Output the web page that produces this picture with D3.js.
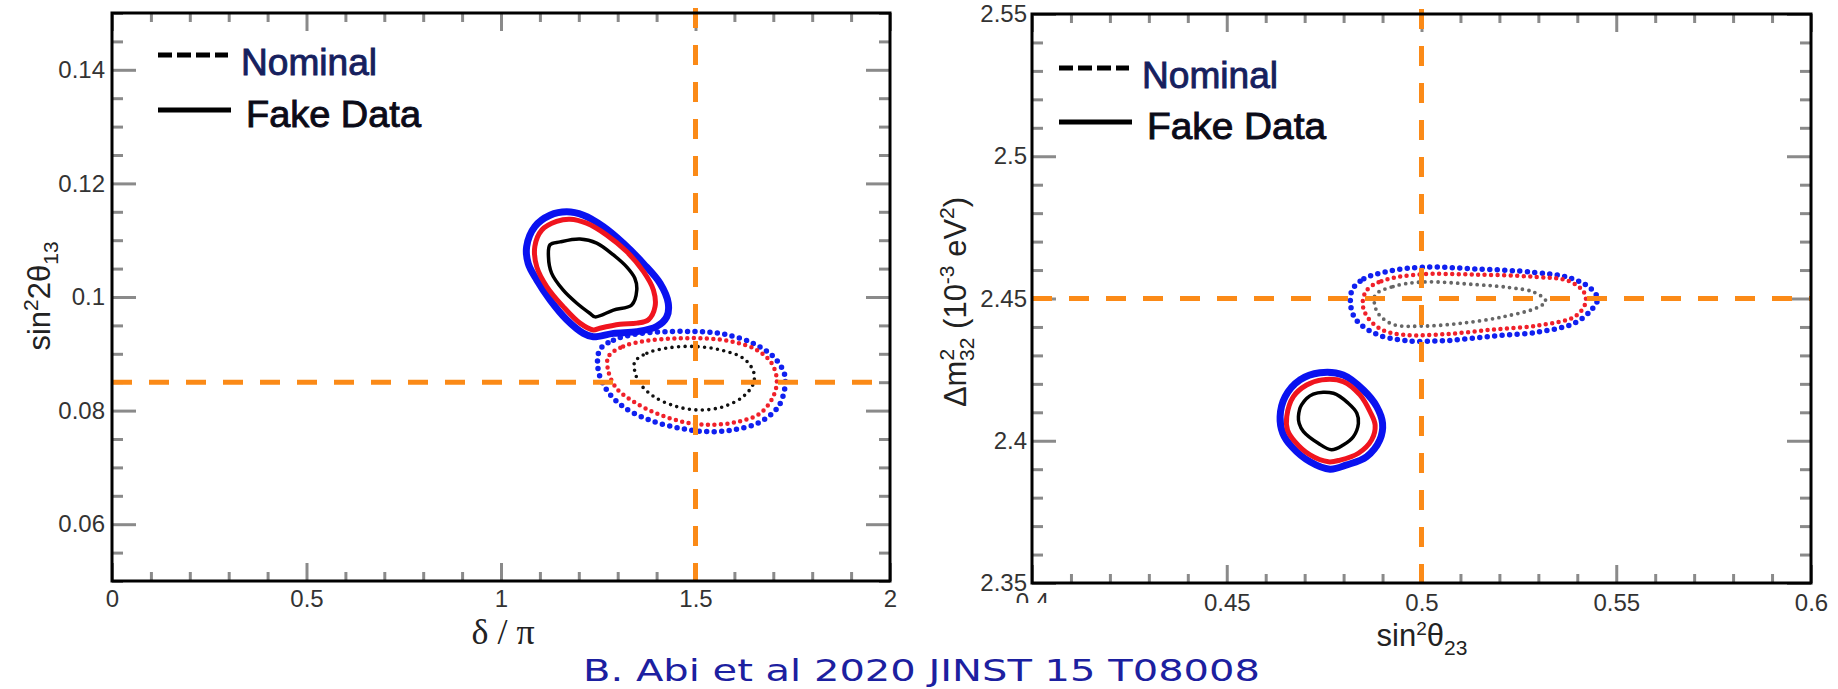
<!DOCTYPE html>
<html>
<head>
<meta charset="utf-8">
<script src="https://cdn.jsdelivr.net/npm/d3@7"></script>
<style>
  body { margin: 0; background: #fff; }
  text { font-family: "Liberation Sans", Arial, sans-serif; }
</style>
</head>
<body>
<div class="canva"></div>
<script>
// ---- left panel: delta/pi vs sin^2 2theta13 ----
const deltaTicks = [0, 0.5, 1, 1.5, 2];
const deltaLabels = ['0', '0.5', '1', '1.5', '2'];
const th13Ticks = [0.06, 0.08, 0.1, 0.12, 0.14];
const th13Labels = ['0.06', '0.08', '0.1', '0.12', '0.14'];
const leftTrue = [1.5, 0.085];

// fake data (solid)
const fakeBlueL = [[1.066,0.1089],[1.087,0.1124],[1.126,0.1144],[1.169,0.1150],[1.212,0.1144],[1.263,0.1124],[1.314,0.1095],[1.366,0.1059],[1.409,0.1024],[1.430,0.0989],[1.426,0.0965],[1.400,0.0948],[1.349,0.0939],[1.289,0.0936],[1.237,0.0930],[1.212,0.0936],[1.169,0.0960],[1.126,0.0995],[1.092,0.1030],[1.070,0.1059]];
const fakeRedL = [[1.087,0.1089],[1.105,0.1118],[1.143,0.1133],[1.177,0.1137],[1.220,0.1130],[1.272,0.1109],[1.323,0.1080],[1.366,0.1045],[1.392,0.1012],[1.396,0.0983],[1.379,0.0960],[1.349,0.0954],[1.306,0.0952],[1.254,0.0945],[1.237,0.0942],[1.203,0.0954],[1.160,0.0983],[1.118,0.1018],[1.092,0.1053]];
const fakeBlackL = [[1.126,0.1092],[1.152,0.1097],[1.203,0.1102],[1.246,0.1095],[1.289,0.1074],[1.323,0.1053],[1.344,0.1033],[1.349,0.1012],[1.336,0.0986],[1.289,0.0977],[1.242,0.0965],[1.229,0.0971],[1.195,0.0989],[1.160,0.1012],[1.130,0.1042],[1.122,0.1071]];
// nominal (dotted)
const nomBlueL = [[1.254,0.0907],[1.289,0.0924],[1.349,0.0935],[1.426,0.0939],[1.503,0.0939],[1.572,0.0935],[1.649,0.0918],[1.700,0.0895],[1.728,0.0866],[1.730,0.0842],[1.713,0.0807],[1.666,0.0780],[1.597,0.0766],[1.529,0.0763],[1.460,0.0769],[1.383,0.0783],[1.314,0.0807],[1.272,0.0836],[1.250,0.0871]];
const nomRedL = [[1.276,0.0895],[1.314,0.0913],[1.375,0.0923],[1.452,0.0927],[1.529,0.0927],[1.597,0.0921],[1.657,0.0907],[1.696,0.0883],[1.709,0.0854],[1.700,0.0825],[1.666,0.0795],[1.606,0.0780],[1.537,0.0775],[1.469,0.0780],[1.400,0.0795],[1.340,0.0816],[1.297,0.0839],[1.276,0.0869]];
const nomBlackL = [[1.344,0.0886],[1.375,0.0901],[1.426,0.0910],[1.494,0.0913],[1.563,0.0907],[1.623,0.0892],[1.649,0.0869],[1.649,0.0848],[1.623,0.0825],[1.572,0.0807],[1.512,0.0801],[1.452,0.0807],[1.392,0.0825],[1.357,0.0848],[1.344,0.0869]];

// ---- right panel: sin^2 theta23 vs dm2_32 ----
const th23Ticks = [0.4, 0.45, 0.5, 0.55, 0.6];
const th23Labels = ['0.4', '0.45', '0.5', '0.55', '0.6'];
const dmTicks = [2.35, 2.4, 2.45, 2.5, 2.55];
const dmLabels = ['2.35', '2.4', '2.45', '2.5', '2.55'];
const rightTrue = [0.5, 2.45];

const fakeBlueR = [[0.4637,2.4085],[0.4650,2.4155],[0.4688,2.4214],[0.4739,2.4239],[0.4799,2.4231],[0.4851,2.4178],[0.4885,2.4120],[0.4900,2.4061],[0.4893,2.4003],[0.4859,2.3944],[0.4808,2.3915],[0.4765,2.3900],[0.4714,2.3926],[0.4667,2.3979],[0.4644,2.4026]];
const fakeRedR = [[0.4654,2.4085],[0.4671,2.4155],[0.4705,2.4196],[0.4744,2.4214],[0.4799,2.4208],[0.4842,2.4161],[0.4868,2.4102],[0.4881,2.4055],[0.4872,2.4003],[0.4838,2.3956],[0.4791,2.3932],[0.4761,2.3926],[0.4714,2.3950],[0.4675,2.3997],[0.4656,2.4038]];
const fakeBlackR = [[0.4684,2.4085],[0.4692,2.4126],[0.4722,2.4164],[0.4774,2.4167],[0.4812,2.4132],[0.4834,2.4097],[0.4838,2.4061],[0.4825,2.4014],[0.4799,2.3985],[0.4769,2.3968],[0.4735,2.3991],[0.4697,2.4032],[0.4686,2.4061]];
const nomBlueR = [[0.4822,2.4530],[0.4852,2.4569],[0.4912,2.4595],[0.5003,2.4610],[0.5138,2.4604],[0.5289,2.4592],[0.5379,2.4573],[0.5432,2.4538],[0.5452,2.4499],[0.5436,2.4460],[0.5394,2.4414],[0.5304,2.4383],[0.5184,2.4368],[0.5063,2.4352],[0.4957,2.4352],[0.4882,2.4376],[0.4834,2.4422],[0.4819,2.4468]];
const nomRedR = [[0.4860,2.4530],[0.4897,2.4561],[0.4988,2.4584],[0.5138,2.4584],[0.5289,2.4576],[0.5379,2.4561],[0.5417,2.4522],[0.5421,2.4484],[0.5394,2.4437],[0.5304,2.4406],[0.5184,2.4391],[0.5063,2.4375],[0.4957,2.4372],[0.4897,2.4391],[0.4860,2.4437],[0.4849,2.4484]];
const nomBlackR = [[0.4882,2.4514],[0.4927,2.4542],[0.5003,2.4558],[0.5138,2.4549],[0.5229,2.4538],[0.5289,2.4522],[0.5319,2.4491],[0.5297,2.4468],[0.5214,2.4437],[0.5108,2.4414],[0.5003,2.4403],[0.4927,2.4409],[0.4890,2.4445],[0.4879,2.4484]];

const legendNames = ['Nominal', 'Fake Data'];
const citation = 'B. Abi et al 2020 JINST 15 T08008';

const orange = '#fb8a17';
const svg = d3.select('.canva').append('svg')
    .attr('width', 1838)
    .attr('height', 689);

function panel(o) {
  const x = d3.scaleLinear().domain(o.xDom).range([o.l, o.r]);
  const y = d3.scaleLinear().domain(o.yDom).range([o.b, o.t]);
  const g = svg.append('g');

  const xMinor = d3.range(o.xDom[0], o.xDom[1] + 1e-9, o.xStep).filter(v => !o.xTicks.some(t => Math.abs(t - v) < 1e-9));
  const yMinor = d3.range(o.yDom[0], o.yDom[1] + 1e-9, o.yStep).filter(v => !o.yTicks.some(t => Math.abs(t - v) < 1e-9));

  function ticks(axis, tr, vals, size, fmt) {
    const a = g.append('g').attr('transform', tr)
      .call(axis.tickValues(vals).tickSize(-size).tickPadding(8).tickFormat(fmt));
    a.select('.domain').remove();
    a.selectAll('line').attr('stroke', '#8a8a8a').attr('stroke-width', 3);
    a.selectAll('text').attr('fill', '#333').style('font-size', '24px')
      .style('font-family', '"Liberation Sans", Arial, sans-serif');
    return a;
  }
  const fmtX = (d, i) => o.xLabels[i];
  const fmtY = (d, i) => o.yLabels[i];
  // major and minor ticks on all four sides, pointing in
  const bx = ticks(d3.axisBottom(x), `translate(0,${o.b})`, o.xTicks, 18, fmtX);
  bx.selectAll('text').attr('y', o.xPad);
  ticks(d3.axisBottom(x), `translate(0,${o.b})`, xMinor, 9, '');
  ticks(d3.axisTop(x), `translate(0,${o.t})`, o.xTicks, 18, '');
  ticks(d3.axisTop(x), `translate(0,${o.t})`, xMinor, 9, '');
  const ly = ticks(d3.axisLeft(y), `translate(${o.l},0)`, o.yTicks, 24, fmtY);
  ly.selectAll('text').attr('x', -o.yPad);
  ticks(d3.axisLeft(y), `translate(${o.l},0)`, yMinor, 11, '');
  ticks(d3.axisRight(y), `translate(${o.r},0)`, o.yTicks, 24, '');
  ticks(d3.axisRight(y), `translate(${o.r},0)`, yMinor, 11, '');
  if (o.clipFirstX) {
    // the first label of this axis is half hidden in the original
    const id = 'clipx' + o.l;
    svg.append('clipPath').attr('id', id).append('rect')
      .attr('x', -30).attr('y', 9).attr('width', 60).attr('height', 11);
    bx.selectAll('.tick').filter((d, i) => i === 0).select('text')
      .attr('y', o.xPad - 1).attr('clip-path', `url(#${id})`);
  }

  // contours
  const line = d3.line().x(d => x(d[0])).y(d => y(d[1]))
    .curve(d3.curveCatmullRomClosed.alpha(0.5));
  const cg = g.append('g');
  o.nominal.forEach(c => {
    cg.append('path').attr('d', line(c.pts)).attr('fill', 'none')
      .attr('stroke', c.color).attr('stroke-width', c.w)
      .attr('stroke-linecap', 'round').attr('stroke-dasharray', `0 ${c.gap}`);
  });
  o.fake.forEach(c => {
    cg.append('path').attr('d', line(c.pts)).attr('fill', 'none')
      .attr('stroke', c.color).attr('stroke-width', c.w)
      .attr('stroke-linejoin', 'round');
  });

  // true-value lines
  g.append('line')
    .attr('x1', o.l).attr('x2', o.r)
    .attr('y1', y(o.truth[1])).attr('y2', y(o.truth[1]))
    .attr('stroke', orange).attr('stroke-width', 5).attr('stroke-dasharray', '20 17');
  g.append('line')
    .attr('x1', x(o.truth[0])).attr('x2', x(o.truth[0]))
    .attr('y1', o.t - 5).attr('y2', o.b)
    .attr('stroke', orange).attr('stroke-width', 5).attr('stroke-dasharray', '20 17');

  // frame
  g.append('rect').attr('x', o.l).attr('y', o.t)
    .attr('width', o.r - o.l).attr('height', o.b - o.t)
    .attr('fill', 'none').attr('stroke', '#000').attr('stroke-width', 3);

  // legend
  const lg = o.legend;
  g.append('line').attr('x1', lg.x).attr('x2', lg.x + 70).attr('y1', lg.y1).attr('y2', lg.y1)
    .attr('stroke', '#000').attr('stroke-width', 5).attr('stroke-dasharray', '14 5');
  g.append('line').attr('x1', lg.x).attr('x2', lg.x + 73).attr('y1', lg.y2).attr('y2', lg.y2)
    .attr('stroke', '#000').attr('stroke-width', 5);
  g.append('text').attr('x', lg.x + 83).attr('y', lg.y1 + 20).text(legendNames[0])
    .attr('fill', '#16205e').attr('stroke', '#16205e').attr('stroke-width', 0.9)
    .style('font-size', '37px')
    .attr('textLength', 136).attr('lengthAdjust', 'spacingAndGlyphs');
  g.append('text').attr('x', lg.x + 88).attr('y', lg.y2 + 17).text(legendNames[1])
    .attr('fill', '#0b0b18').attr('stroke', '#0b0b18').attr('stroke-width', 0.9)
    .style('font-size', '36px')
    .attr('textLength', lg.fw).attr('lengthAdjust', 'spacingAndGlyphs');
  return { x, y };
}

panel({
  xDom: [0, 2], yDom: [0.05, 0.15], l: 112, r: 890, t: 13, b: 581,
  xTicks: deltaTicks, xLabels: deltaLabels, xStep: 0.1, xPad: 9,
  yTicks: th13Ticks, yLabels: th13Labels, yStep: 0.005, yPad: 7,
  truth: leftTrue,
  fake: [
    { pts: fakeBlueL, color: '#0a12f0', w: 7 },
    { pts: fakeRedL, color: '#f0141e', w: 5 },
    { pts: fakeBlackL, color: '#000', w: 3.5 }
  ],
  nominal: [
    { pts: nomBlueL, color: '#1020f0', w: 5.5, gap: 7.5 },
    { pts: nomRedL, color: '#f0202a', w: 4.5, gap: 6.5 },
    { pts: nomBlackL, color: '#111', w: 3.6, gap: 6.5 }
  ],
  legend: { x: 158, y1: 55, y2: 110, fw: 175 }
});

panel({
  xDom: [0.4, 0.6], yDom: [2.35, 2.55], l: 1032, r: 1811, t: 14, b: 583,
  xTicks: th23Ticks, xLabels: th23Labels, xStep: 0.01, xPad: 11,
  yTicks: dmTicks, yLabels: dmLabels, yStep: 0.01, yPad: 5,
  truth: rightTrue, clipFirstX: true,
  fake: [
    { pts: fakeBlueR, color: '#0a12f0', w: 7 },
    { pts: fakeRedR, color: '#f0141e', w: 5 },
    { pts: fakeBlackR, color: '#000', w: 3.5 }
  ],
  nominal: [
    { pts: nomBlueR, color: '#1020f0', w: 5.5, gap: 7.5 },
    { pts: nomRedR, color: '#f0202a', w: 4.5, gap: 6.5 },
    { pts: nomBlackR, color: '#666', w: 3.8, gap: 6.5 }
  ],
  legend: { x: 1059, y1: 68, y2: 122, fw: 179 }
});

// axis titles
svg.append('text').attr('x', 503).attr('y', 644).attr('text-anchor', 'middle')
  .style('font-family', '"Liberation Serif", "Times New Roman", serif')
  .style('font-size', '36px').attr('fill', '#222').text('δ / π');

const t13 = svg.append('text').attr('transform', 'translate(50,296) rotate(-90)')
  .attr('text-anchor', 'middle').style('font-size', '31px').attr('fill', '#222');
t13.append('tspan').text('sin');
t13.append('tspan').attr('dy', -12).style('font-size', '21px').text('2');
t13.append('tspan').attr('dy', 12).text('2θ');
t13.append('tspan').attr('dy', 8).style('font-size', '21px').text('13');

const tdm = svg.append('text').attr('transform', 'translate(966,302) rotate(-90)')
  .attr('text-anchor', 'middle').style('font-size', '31px').attr('fill', '#222');
tdm.append('tspan').text('Δm');
tdm.append('tspan').attr('dy', -12).style('font-size', '21px').text('2');
tdm.append('tspan').attr('dx', -12).attr('dy', 20).style('font-size', '21px').text('32');
tdm.append('tspan').attr('dy', -8).text(' (10');
tdm.append('tspan').attr('dy', -12).style('font-size', '21px').text('-3');
tdm.append('tspan').attr('dy', 12).text(' eV');
tdm.append('tspan').attr('dy', -12).style('font-size', '21px').text('2');
tdm.append('tspan').attr('dy', 12).text(')');

const t23 = svg.append('text').attr('x', 1422).attr('y', 646)
  .attr('text-anchor', 'middle').style('font-size', '31px').attr('fill', '#222');
t23.append('tspan').text('sin');
t23.append('tspan').attr('dy', -11).style('font-size', '19px').text('2');
t23.append('tspan').attr('dy', 11).text('θ');
t23.append('tspan').attr('dy', 9).style('font-size', '21px').text('23');

// citation
svg.append('text').attr('x', 583).attr('y', 681).text(citation)
  .style('font-family', '"DejaVu Sans", sans-serif').style('font-size', '30px')
  .attr('fill', '#1c20a0').attr('textLength', 677).attr('lengthAdjust', 'spacingAndGlyphs');
</script>
</body>
</html>
